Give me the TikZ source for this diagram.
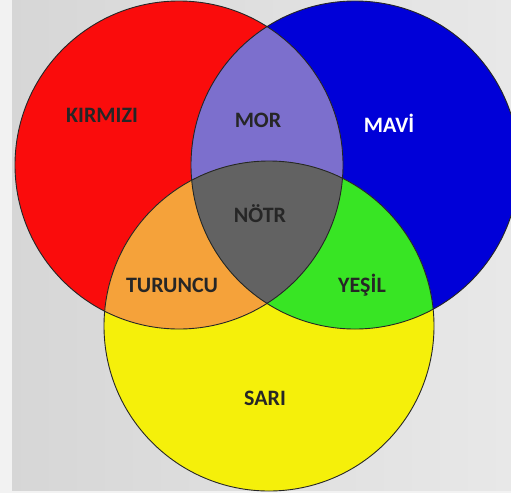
\documentclass[tikz,border=0pt]{standalone}
\usepackage{fontspec}
\setmainfont{Carlito}

\definecolor{kirmizi}{RGB}{250,12,12}
\definecolor{mavi}{RGB}{0,0,216}
\definecolor{sari}{RGB}{245,240,10}
\definecolor{mor}{RGB}{124,111,205}
\definecolor{turuncu}{RGB}{245,162,58}
\definecolor{yesil}{RGB}{56,229,36}
\definecolor{notr}{RGB}{98,98,98}

\begin{document}
\begin{tikzpicture}
[x=1pt,y=-1pt,%
  circleLine/.style={line width=0.9pt,color=black!85},%
  colorName/.style={font=\bfseries\fontsize{22}{22}\selectfont,text=black!85,anchor=base,inner sep=0pt}]
\useasboundingbox (0,0) rectangle (511,493);
\fill[gray!10] (0,0) rectangle (511,493);
\shade[left color=gray!32,right color=gray!18] (12,0) rectangle (511,490);

\coordinate (kirmiziC) at (179,165);
\coordinate (maviC) at (355,165);
\coordinate (sariC) at (269,326);

%% the three circles
\fill[kirmizi] (kirmiziC) circle (164pt);
\fill[mavi] (maviC) circle (164pt);
\fill[sari] (sariC) circle (165pt);

%% the overlaps
\begin{scope}
  \clip (kirmiziC) circle (164pt);
  \fill[mor] (maviC) circle (164pt);
  \fill[turuncu] (sariC) circle (165pt);
\end{scope}
\begin{scope}
  \clip (maviC) circle (164pt);
  \fill[yesil] (sariC) circle (165pt);
\end{scope}
\begin{scope}
  \clip (kirmiziC) circle (164pt);
  \clip (maviC) circle (164pt);
  \fill[notr] (sariC) circle (165pt);
\end{scope}

\foreach \c/\r in {kirmiziC/164pt, maviC/164pt, sariC/165pt}
{
  \draw[circleLine] (\c) circle (\r);
}

%% the names
\foreach \name/\x/\y/\txt in {kirmiziLbl/102/122/KIRMIZI, morLbl/258/127/MOR,
  notrLbl/260/222/NÖTR, turuncuLbl/172/292/TURUNCU, yesilLbl/362/292/YEŞİL,
  sariLbl/265/405/SARI}
{
  \node[colorName] (\name) at (\x,\y) {\txt};
}
\node[colorName,text=white] (maviLbl) at (389,132) {MAVİ};
\end{tikzpicture}
\end{document}
